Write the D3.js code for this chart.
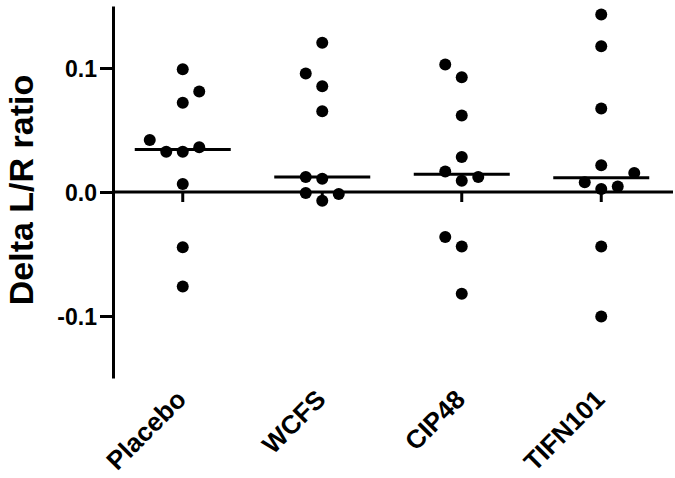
<!DOCTYPE html>
<html>
<head>
<meta charset="utf-8">
<script src="https://cdn.jsdelivr.net/npm/d3@7"></script>
<style>
  html, body { margin: 0; padding: 0; background: #fff; }
  svg { display: block; }
  text { font-family: "Liberation Sans", Arial, Helvetica, sans-serif; font-weight: bold; fill: #000; }
</style>
</head>
<body>
<svg id="chart" width="675" height="478"></svg>
<script>
// ---- data ----
const categories = ["Placebo", "WCFS", "CIP48", "TIFN101"];
const placebo = [0.099, 0.081, 0.072, 0.042, 0.0325, 0.0325, 0.036, 0.0065, -0.0446, -0.0763];
const wcfs    = [0.1203, 0.0955, 0.0853, 0.0651, 0.0121, 0.0107, -0.0008, -0.007, -0.0016];
const cip48   = [0.1028, 0.0925, 0.0616, 0.0283, 0.0166, 0.0091, 0.0121, -0.0363, -0.0439, -0.0821];
const tifn101 = [0.1432, 0.1176, 0.0673, 0.0215, 0.0153, 0.0078, 0.0024, 0.0045, -0.0439, -0.1004];
// horizontal slot of each point within its column (scatter spread)
const placeboSlots = [0, 1, 0, -2, -1, 0, 1, 0, 0, 0];
const wcfsSlots    = [0, -1, 0, 0, -1, 0, -1, 0, 1];
const cip48Slots   = [-1, 0, 0, 0, -1, 0, 1, -1, 0, 0];
const tifn101Slots = [0, 0, 0, 0, 2, -1, 0, 1, 0, 0];
const yTicks = [-0.1, 0.0, 0.1];
const yTickLabels = ["-0.1", "0.0", "0.1"];
const yTitle = "Delta L/R ratio";

const groups = [
  { name: categories[0], values: placebo, slots: placeboSlots },
  { name: categories[1], values: wcfs,    slots: wcfsSlots },
  { name: categories[2], values: cip48,   slots: cip48Slots },
  { name: categories[3], values: tifn101, slots: tifn101Slots }
];

// ---- layout ----
const svg = d3.select("#chart");
const x = d3.scaleBand().domain(categories).range([113, 671]).padding(0);
const y = d3.scaleLinear().domain([-0.15, 0.15]).range([378, 6]);
const cx = c => x(c) + x.bandwidth() / 2;
const slotStep = 16.5;
const r = 6;
const medHalf = 48;

// y axis
const yAxis = d3.axisLeft(y)
  .tickValues(yTicks)
  .tickFormat((d, i) => yTickLabels[i])
  .tickSize(13)
  .tickSizeOuter(0)
  .tickPadding(3);
const gy = svg.append("g").attr("transform", "translate(113,0)").call(yAxis);
gy.select(".domain").attr("stroke", "#000").attr("stroke-width", 3);
gy.selectAll(".tick line").attr("stroke", "#000").attr("stroke-width", 3);
gy.selectAll(".tick text").style("font-size", "23px").attr("dy", "0.36em");

// x axis at zero
const xAxis = d3.axisBottom(x).tickSize(10).tickSizeOuter(0).tickFormat("");
const gx = svg.append("g").attr("transform", `translate(0,${y(0)})`).call(xAxis);
gx.select(".domain").attr("stroke", "#000").attr("stroke-width", 3).attr("d", `M113,0H673`);
gx.selectAll(".tick line").attr("stroke", "#000").attr("stroke-width", 3);

// category labels
svg.append("g").selectAll("text").data(categories).join("text")
  .attr("transform", d => `translate(${cx(d) + 5},401) rotate(-45)`)
  .attr("text-anchor", "end")
  .style("font-size", "26px")
  .text(d => d);

// y title
svg.append("text")
  .attr("transform", "translate(33,190) rotate(-90)")
  .attr("text-anchor", "middle")
  .style("font-size", "34px")
  .text(yTitle);

// points
const pts = svg.append("g");
groups.forEach(g => {
  pts.selectAll(null).data(g.values.map((v, i) => ({ v, s: g.slots[i] }))).join("circle")
    .attr("cx", d => cx(g.name) + d.s * slotStep)
    .attr("cy", d => y(d.v))
    .attr("r", r)
    .attr("fill", "#000");
});

// medians
svg.append("g").selectAll("line").data(groups).join("line")
  .attr("x1", d => cx(d.name) - medHalf)
  .attr("x2", d => cx(d.name) + medHalf)
  .attr("y1", d => y(d3.median(d.values)))
  .attr("y2", d => y(d3.median(d.values)))
  .attr("stroke", "#000")
  .attr("stroke-width", 3);
</script>
</body>
</html>
